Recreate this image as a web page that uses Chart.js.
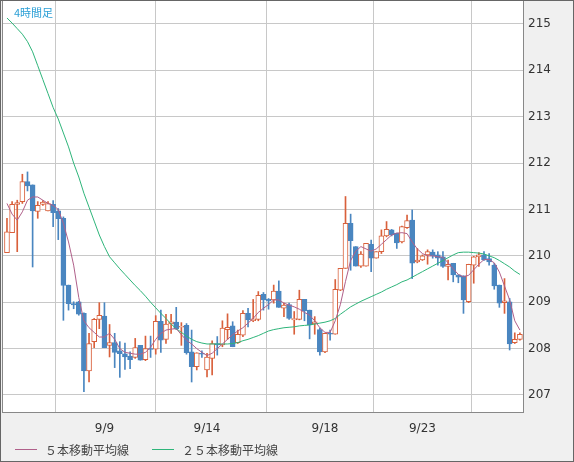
<!DOCTYPE html>
<html><head><meta charset="utf-8">
<script src="https://cdn.jsdelivr.net/npm/chart.js@4"></script>
<style>
body{margin:0;background:#f0f0f0;font-family:"Noto Sans CJK JP","DejaVu Sans",sans-serif;}
#wrap{position:relative;width:574px;height:462px;}
#title{position:absolute;left:14px;top:4px;font-size:11px;color:#2a9fd6;}
.lg{position:absolute;top:441px;font-size:12px;color:#444;}
.sw{position:absolute;top:449px;height:1px;width:22px;}
</style></head><body>
<div id="wrap"><canvas id="c" width="574" height="462"></canvas>
<div id="title">4時間足</div>
<div class="sw" style="left:15px;background:#b0608a"></div><div class="lg" style="left:45px">５本移動平均線</div>
<div class="sw" style="left:152px;background:#2eb57a"></div><div class="lg" style="left:182px">２５本移動平均線</div>
</div>
<script>
const openP=[210.07,210.50,211.11,211.17,211.60,211.53,210.96,211.11,210.97,211.11,210.97,210.81,209.37,208.97,209.01,208.76,207.52,208.15,208.63,208.70,208.07,208.13,207.95,207.89,207.84,207.81,208.07,207.76,208.00,207.99,208.59,208.20,208.53,208.57,208.46,208.50,207.93,207.61,207.90,207.54,207.79,208.11,208.08,208.41,208.49,208.13,208.29,208.76,208.60,208.63,209.17,209.06,209.05,209.24,208.87,208.95,208.62,208.63,209.06,208.83,208.53,208.41,207.93,208.33,208.31,209.26,209.73,210.70,210.20,209.78,209.78,210.25,209.95,210.09,210.43,210.56,210.49,210.30,210.61,210.77,209.87,209.91,210.02,210.08,210.02,209.98,209.77,209.84,209.59,209.57,209.01,209.80,209.98,210.02,209.94,209.80,209.37,208.99,209.01,208.13,208.20];
const closeP=[210.52,211.11,211.15,211.60,211.51,210.97,211.09,211.16,211.13,210.93,210.80,209.36,208.97,208.94,208.74,207.52,208.11,208.63,208.72,208.02,208.13,207.92,207.89,207.82,207.76,208.02,207.75,208.00,207.98,208.59,208.18,208.53,208.58,208.43,208.48,207.91,207.61,207.91,207.88,207.82,208.11,208.08,208.44,208.46,208.04,208.31,208.76,208.62,208.64,209.15,209.05,209.03,209.24,208.89,208.94,208.65,208.65,209.06,208.82,208.51,208.58,207.93,208.33,208.31,209.28,209.73,210.70,210.33,209.78,210.04,210.27,209.95,210.09,210.43,210.57,210.45,210.28,210.63,210.76,209.84,209.91,210.00,210.09,210.00,209.95,209.77,209.82,209.59,209.54,209.05,209.82,209.98,210.02,209.91,209.87,209.35,208.98,209.03,208.10,208.20,208.31];
const highP=[210.81,211.17,211.20,211.76,211.81,211.53,211.17,211.19,211.17,211.19,211.02,210.84,209.37,209.01,209.02,208.77,208.33,208.65,208.99,208.99,208.52,208.33,208.15,208.12,207.93,208.22,208.07,208.27,208.27,208.71,208.83,208.74,208.74,208.89,208.56,208.54,208.40,207.91,207.95,207.90,208.17,208.26,208.60,208.75,208.58,208.40,208.82,208.87,209.06,209.23,209.21,209.08,209.37,209.46,208.98,208.98,208.80,209.26,209.06,208.83,208.69,208.44,208.33,208.40,209.49,209.73,211.28,210.90,210.20,210.09,210.27,210.34,210.09,210.56,210.74,210.57,210.49,210.64,210.88,210.99,210.16,210.02,210.13,210.13,210.09,210.09,209.91,209.84,209.59,209.57,209.82,209.99,210.07,210.09,210.05,209.84,209.37,209.51,209.08,208.34,208.34];
const lowP=[210.07,210.50,210.09,211.13,211.40,209.76,210.81,211.09,210.97,210.63,210.35,208.61,208.83,208.86,208.72,207.07,207.28,208.02,208.43,208.02,207.82,207.59,207.38,207.55,207.57,207.79,207.75,207.74,207.81,207.88,207.92,208.11,208.33,208.41,208.07,207.88,207.28,207.54,207.81,207.39,207.43,207.86,208.04,208.20,208.04,208.11,208.26,208.47,208.58,208.60,208.83,208.85,208.98,208.89,208.69,208.63,208.31,208.62,208.60,208.21,208.31,207.86,207.91,208.18,208.31,209.25,209.73,209.69,209.78,209.75,209.78,209.66,209.95,210.05,210.41,210.43,210.16,210.28,210.59,209.51,209.85,209.90,209.82,209.95,209.80,209.75,209.48,209.44,209.42,208.76,208.99,209.41,209.77,209.90,209.80,209.28,208.89,208.76,207.97,208.11,208.18];
const ma5=[211.13,210.9,210.77,210.95,211.2,211.27,211.27,211.2,211.13,211.09,211.0,210.7,210.3,209.8,209.1,208.6,208.45,208.35,208.25,208.25,208.33,208.2,208.0,207.92,207.9,207.88,207.88,207.92,208.03,208.2,208.33,208.4,208.42,208.43,208.3,208.18,208.1,208.0,207.92,207.85,207.9,208.0,208.1,208.2,208.3,208.38,208.45,208.55,208.65,208.78,208.87,208.95,209.05,209.05,208.98,208.94,208.9,208.85,208.78,208.72,208.6,208.45,208.35,208.35,208.6,208.95,209.45,209.9,210.1,210.2,210.15,210.1,210.15,210.25,210.35,210.45,210.49,210.5,210.48,210.3,210.15,210.05,210.0,210.0,209.98,209.97,209.85,209.72,209.6,209.55,209.58,209.7,209.82,209.92,209.92,209.85,209.65,209.35,209.05,208.6,208.4];
const ma25=[215.13,215.02,214.9,214.78,214.62,214.4,214.1,213.8,213.5,213.2,212.95,212.65,212.35,212.0,211.7,211.35,211.05,210.75,210.45,210.2,209.98,209.85,209.72,209.6,209.48,209.36,209.25,209.13,209.0,208.88,208.76,208.65,208.53,208.43,208.35,208.27,208.2,208.15,208.12,208.1,208.1,208.1,208.1,208.1,208.11,208.13,208.17,208.2,208.24,208.28,208.33,208.38,208.41,208.43,208.45,208.46,208.47,208.49,208.5,208.51,208.53,208.55,208.57,208.6,208.65,208.74,208.82,208.9,208.96,209.02,209.07,209.12,209.17,209.22,209.28,209.33,209.38,209.44,209.48,209.54,209.6,209.66,209.72,209.78,209.84,209.9,209.96,210.02,210.07,210.08,210.08,210.07,210.06,210.04,210.0,209.96,209.9,209.83,209.76,209.67,209.6];
const xTickIdx=[0,19,39,62,81];
const xTickLabels=['','9/9','9/14','9/18','9/23'];
const yTicks=[207,208,209,210,211,212,213,214,215];

const UP='#d9603b',DN='#4a86c0';
const up=openP.map((o,i)=>closeP[i]>=o);
const bodies=openP.map((o,i)=>({x:i,y:[o,closeP[i]]}));
const wicks=openP.map((o,i)=>({x:i,y:[lowP[i],highP[i]]}));
const line=a=>a.map((v,i)=>({x:i,y:v}));

const bgPlugin={id:'bg',beforeDraw(ch){const a=ch.chartArea,c=ch.ctx;c.save();c.fillStyle='#f0f0f0';c.fillRect(0,0,ch.width,ch.height);c.fillStyle='#fff';c.fillRect(a.left,a.top,a.right-a.left,a.bottom-a.top);c.restore();},
 afterDraw(ch){const a=ch.chartArea,c=ch.ctx;c.save();c.strokeStyle='#888';c.lineWidth=1;c.strokeRect(a.left+0.5,a.top+0.5,a.right-a.left-1,a.bottom-a.top);c.strokeStyle='#666';c.strokeRect(0.5,0.5,ch.width-1,ch.height-1);c.restore();}};

new Chart(document.getElementById('c'),{
 type:'bar',
 data:{datasets:[
  {type:'line',data:line(ma5),borderColor:'#b0608a',borderWidth:1,pointRadius:0,order:1},
  {type:'line',data:line(ma25),borderColor:'#2eb57a',borderWidth:1,pointRadius:0,order:1},
  {data:bodies,backgroundColor:up.map(u=>u?'#fff':DN),borderColor:up.map(u=>u?UP:DN),borderWidth:1,borderSkipped:false,barThickness:5,grouped:false,order:2},
  {data:wicks,backgroundColor:up.map(u=>u?UP:DN),borderWidth:0,barThickness:1,grouped:false,order:3}
 ]},
 options:{responsive:false,animation:false,
  layout:{padding:{left:2,top:0,right:0,bottom:0}},
  plugins:{legend:{display:false},tooltip:{enabled:false}},
  scales:{
   x:{type:'linear',min:-0.97,max:100.8,offset:false,
    afterBuildTicks(s){s.ticks=xTickIdx.map(v=>({value:v}));},
    afterFit(s){s.height=50;s.paddingLeft=0;s.paddingRight=0;},
    grid:{color:'#c8c8c8',drawTicks:false},border:{display:false},
    ticks:{autoSkip:false,maxRotation:0,padding:10,color:'#333',font:{size:12,family:'DejaVu Sans'},callback:(v)=>xTickLabels[xTickIdx.indexOf(v)]??''}},
   y:{position:'right',min:206.633,max:215.5175,
    afterBuildTicks(s){s.ticks=yTicks.map(v=>({value:v}));},
    afterFit(s){s.width=50;s.paddingTop=0;s.paddingBottom=0;},
    grid:{color:'#c8c8c8',drawTicks:false},border:{display:false},
    ticks:{padding:4,color:'#333',font:{size:12,family:'DejaVu Sans'}}}
  }},
 plugins:[bgPlugin]
});
</script></body></html>
